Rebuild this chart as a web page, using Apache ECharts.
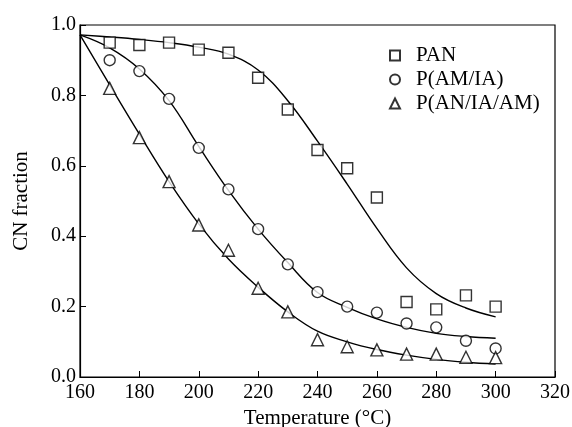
<!DOCTYPE html>
<html>
<head>
<meta charset="utf-8">
<script src="https://cdn.jsdelivr.net/npm/echarts@6/dist/echarts.min.js"></script>
<style>
  html, body { margin: 0; padding: 0; background: #fff; }
  #chart { width: 572px; height: 427px; }
</style>
</head>
<body>
<div id="chart"></div>
<script>
// measured points
const temps = [170, 180, 190, 200, 210, 220, 230, 240, 250, 260, 270, 280, 290, 300]
const panPts = [0.95, 0.943, 0.95, 0.93, 0.921, 0.85, 0.76, 0.645, 0.593, 0.51, 0.213, 0.192, 0.232, 0.20]
const amiaPts = [0.90, 0.869, 0.79, 0.651, 0.533, 0.42, 0.32, 0.241, 0.20, 0.183, 0.152, 0.141, 0.103, 0.081]
const aniaamPts = [0.82, 0.68, 0.555, 0.432, 0.36, 0.252, 0.185, 0.106, 0.086, 0.077, 0.065, 0.065, 0.056, 0.055]

// fitted curves
const fitTemps = [160, 170, 180, 190, 200, 210, 220, 230, 240, 250, 260, 270, 280, 290, 300]
const panFit = [0.972, 0.966, 0.959, 0.95, 0.937, 0.917, 0.872, 0.785, 0.67, 0.548, 0.422, 0.31, 0.237, 0.196, 0.171]
const amiaFit = [0.972, 0.935, 0.875, 0.785, 0.655, 0.53, 0.42, 0.325, 0.24, 0.198, 0.165, 0.141, 0.124, 0.115, 0.11]
const aniaamFit = [0.972, 0.83, 0.69, 0.555, 0.435, 0.335, 0.255, 0.185, 0.13, 0.10, 0.078, 0.062, 0.05, 0.042, 0.037]

const xTicks = [160, 180, 200, 220, 240, 260, 280, 300, 320]
const yTicks = [0.0, 0.2, 0.4, 0.6, 0.8, 1.0]

const font = 'Liberation Serif, Times New Roman, serif'
const pair = (xs, ys) => xs.map((x, i) => [x, ys[i]])

const mChart = echarts.init(document.getElementById('chart'))

const scatter = (name, symbol, size, ys) => ({
  name,
  type: 'scatter',
  symbol,
  symbolSize: size,
  itemStyle: { color: '#fff', borderColor: '#000', borderWidth: 1.4 },
  z: 3,
  data: pair(temps, ys)
})
const fit = (name, ys) => ({
  name,
  type: 'line',
  smooth: 0.4,
  symbol: 'none',
  lineStyle: { color: '#000', width: 1.4 },
  z: 2,
  data: pair(fitTemps, ys)
})

const options = {
  backgroundColor: '#fff',
  animation: false,
  textStyle: { fontFamily: font, color: '#000' },
  grid: {
    left: 80,
    right: 17,
    top: 25,
    bottom: 50,
    outerBoundsMode: 'none',
    containLabel: false,
    show: true,
    borderColor: '#000',
    borderWidth: 1.2
  },
  legend: {
    orient: 'vertical',
    left: 384,
    top: 40,
    itemWidth: 10,
    itemHeight: 10,
    itemGap: 3,
    data: ['PAN', 'P(AM/IA)', 'P(AN/IA/AM)'],
    textStyle: { fontFamily: font, fontSize: 21, color: '#000', padding: [0, 0, 0, 11], lineHeight: 21 }
  },
  xAxis: {
    type: 'value',
    min: xTicks[0],
    max: xTicks[xTicks.length - 1],
    interval: 20,
    name: 'Temperature (°C)',
    nameLocation: 'middle',
    nameGap: 30,
    nameTextStyle: { fontFamily: font, fontSize: 21, color: '#000' },
    axisLine: { lineStyle: { color: '#000', width: 1.2 } },
    axisTick: { inside: true, length: 6, lineStyle: { color: '#000' } },
    axisLabel: { fontFamily: font, fontSize: 20, color: '#000', margin: 6 },
    splitLine: { show: false }
  },
  yAxis: {
    type: 'value',
    min: yTicks[0],
    max: yTicks[yTicks.length - 1],
    interval: 0.2,
    name: 'CN fraction',
    nameLocation: 'middle',
    nameGap: 48,
    nameTextStyle: { fontFamily: font, fontSize: 21, color: '#000' },
    axisLine: { show: true, lineStyle: { color: '#000', width: 1.2 } },
    axisTick: { show: true, inside: true, length: 6, lineStyle: { color: '#000' } },
    axisLabel: { fontFamily: font, fontSize: 20, color: '#000', margin: 4, formatter: v => v.toFixed(1) },
    splitLine: { show: false }
  },
  series: [
    fit('PAN fit', panFit),
    fit('P(AM/IA) fit', amiaFit),
    fit('P(AN/IA/AM) fit', aniaamFit),
    scatter('PAN', 'rect', 11, panPts),
    scatter('P(AM/IA)', 'circle', 11, amiaPts),
    scatter('P(AN/IA/AM)', 'triangle', 12, aniaamPts)
  ]
}
mChart.setOption(options)
</script>
</body>
</html>
